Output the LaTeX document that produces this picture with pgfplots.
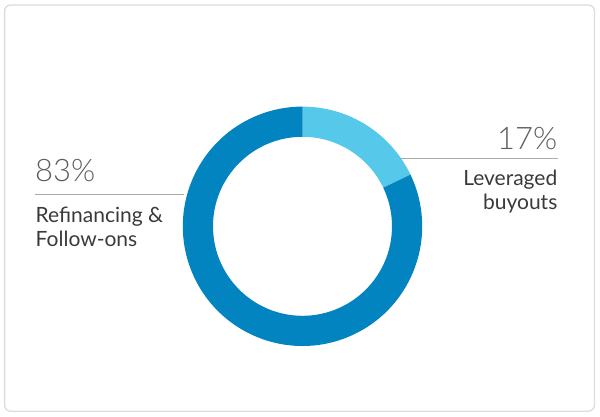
\documentclass[border=0pt]{standalone}
\usepackage{pgfplots}
\usepackage{pgfplotstable}
\pgfplotsset{compat=1.18}
\usetikzlibrary{calc}
\usepackage{fontspec}
\setmainfont{Lato}
\newfontfamily\lightfont{Lato}[UprightFont={* Light}]

\definecolor{darkblue}{HTML}{0284C1}
\definecolor{lightblue}{HTML}{56C8E9}
\definecolor{numgray}{HTML}{5E5E5E}
\definecolor{labgray}{HTML}{3A3A3A}
\definecolor{rulegray}{HTML}{ABABAB}
\definecolor{boxgray}{HTML}{DCDCDC}

% share of each deal type (slice order: clockwise from 12 o'clock)
\pgfplotstableread{
label value
Leveraged 17.9
Refinancing 82.1
}\piedata

\pgfplotstablegetelem{0}{value}\of\piedata
\pgfmathsetmacro\angA{90-3.6*\pgfplotsretval}
\pgfplotstablegetelem{1}{value}\of\piedata
\pgfmathsetmacro\angB{\angA-3.6*\pgfplotsretval}

\def\cx{302.5}
\def\cy{189.7}
\def\Ro{119.7}
\def\Ri{89.5}

\begin{document}
\begin{tikzpicture}
\begin{axis}[
    x=1pt, y=1pt,
    xmin=0, xmax=600, ymin=0, ymax=416,
    scale only axis,
    hide axis,
    clip=false,
]
    \path (axis cs:0,0) (axis cs:600,416);
    % card outline
    \draw[boxgray, line width=1.3pt, rounded corners=6pt]
        (axis cs:4.6,4.8) rectangle (axis cs:594.4,411);

    % slices
    \fill[lightblue] ($(axis cs:\cx,\cy)+(90:\Ro pt)$)
        arc[start angle=90, end angle=\angA, radius=\Ro pt]
        -- ($(axis cs:\cx,\cy)+(\angA:\Ri pt)$)
        arc[start angle=\angA, end angle=90, radius=\Ri pt] -- cycle;
    \fill[darkblue] ($(axis cs:\cx,\cy)+(\angA:\Ro pt)$)
        arc[start angle=\angA, end angle=\angB, radius=\Ro pt]
        -- ($(axis cs:\cx,\cy)+(\angB:\Ri pt)$)
        arc[start angle=\angB, end angle=\angA, radius=\Ri pt] -- cycle;

    % leader rules
    \draw[rulegray, line width=1pt] (axis cs:35,222) -- (axis cs:184,222);
    \draw[rulegray, line width=1pt] (axis cs:401,258) -- (axis cs:558,258);

    % labels
    \node[anchor=base west, inner sep=0pt, text=numgray, font=\lightfont\fontsize{31}{31}\selectfont]
        at (axis cs:35,234.3) {83\%};
    \node[anchor=base west, inner sep=0pt, text=labgray, font=\fontsize{21}{24}\selectfont]
        at (axis cs:35.5,194) {Refinancing \&};
    \node[anchor=base west, inner sep=0pt, text=labgray, font=\fontsize{21}{24}\selectfont]
        at (axis cs:35.5,170) {Follow-ons};

    \node[anchor=base east, inner sep=0pt, text=numgray, font=\lightfont\fontsize{31}{31}\selectfont]
        at (axis cs:557.5,266.7) {17\%};
    \node[anchor=base east, inner sep=0pt, text=labgray, font=\fontsize{21}{24}\selectfont]
        at (axis cs:557.5,231) {Leveraged};
    \node[anchor=base east, inner sep=0pt, text=labgray, font=\fontsize{21}{24}\selectfont]
        at (axis cs:557.5,207) {buyouts};
\end{axis}
\end{tikzpicture}
\end{document}
